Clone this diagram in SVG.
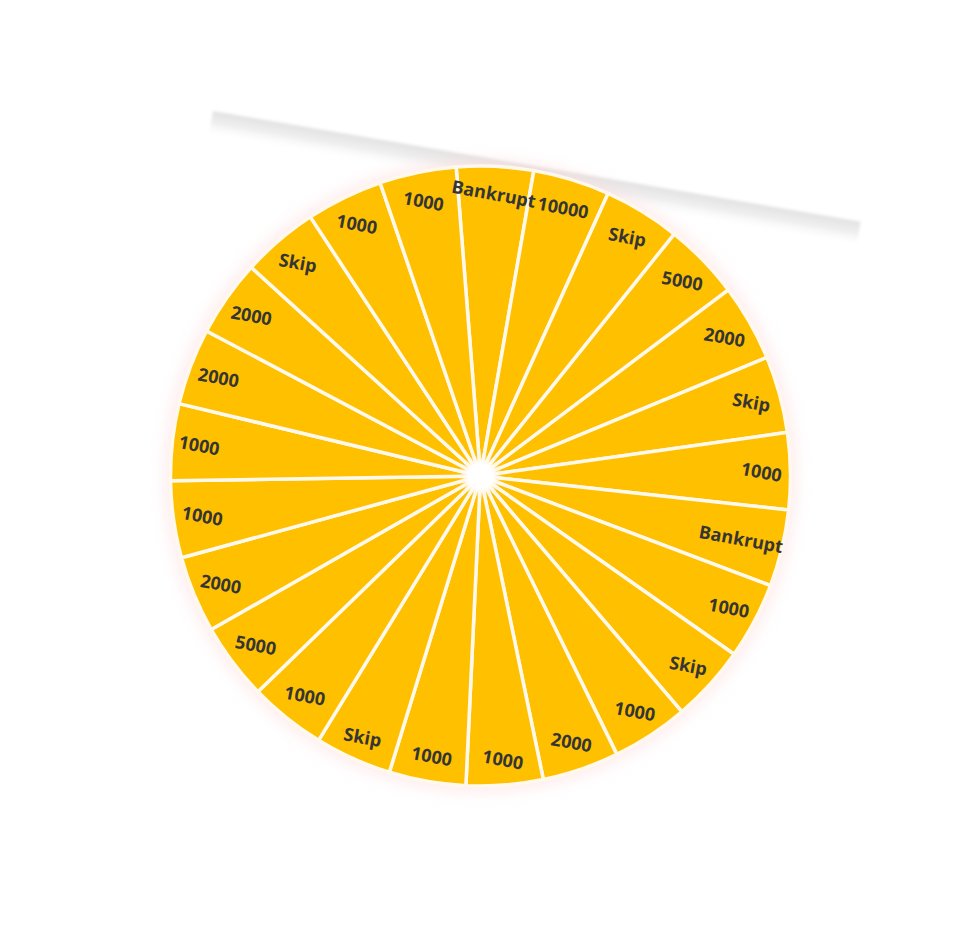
<svg xmlns="http://www.w3.org/2000/svg" xmlns:xlink="http://www.w3.org/1999/xlink" width="966" height="950" viewBox="0 0 966 950">
<defs>
<style>
.seg{fill:#FFC000;stroke:#FFF8EC;stroke-width:3.5;stroke-linejoin:round}
.lbl{font-family:"Open Sans","DejaVu Sans",sans-serif;font-weight:700;font-size:18px;fill:#353535;text-anchor:middle;dominant-baseline:central}
</style>
<linearGradient id="barG" x1="0" y1="0" x2="0" y2="1">
<stop offset="0" stop-color="#e2e2e2"/>
<stop offset="0.45" stop-color="#efefef"/>
<stop offset="1" stop-color="#ffffff" stop-opacity="0"/>
</linearGradient>
<radialGradient id="hubG">
<stop offset="0" stop-color="#ffffff"/>
<stop offset="0.55" stop-color="#ffffff"/>
<stop offset="1" stop-color="#fff3dc" stop-opacity="0"/>
</radialGradient>
<filter id="glow" x="-20%" y="-20%" width="140%" height="140%">
<feGaussianBlur stdDeviation="9"/>
</filter>
<filter id="barBlur" x="-5%" y="-50%" width="110%" height="200%">
<feGaussianBlur stdDeviation="1.5"/>
</filter>
<path id="seg" d="M0,0 L-38.85,-307.55 A310,310 0 0 1 38.85,-307.55 Z"/>
</defs>
<rect width="966" height="950" fill="#ffffff"/>
<g id="bar">
<rect x="213" y="111" width="657" height="26" fill="url(#barG)" filter="url(#barBlur)" transform="rotate(9.7 213 111)"/>
</g>
<g id="glow-ring">
<circle cx="480.5" cy="476" r="314" fill="#ffd6d6" opacity="0.55" filter="url(#glow)"/>
</g>
<g id="wheel" transform="translate(480.5,476)">
<g id="segments">
<use id="s0" xlink:href="#seg" class="seg" transform="rotate(2.7)"/>
<use id="s1" xlink:href="#seg" class="seg" transform="rotate(17.1)"/>
<use id="s2" xlink:href="#seg" class="seg" transform="rotate(31.5)"/>
<use id="s3" xlink:href="#seg" class="seg" transform="rotate(45.9)"/>
<use id="s4" xlink:href="#seg" class="seg" transform="rotate(60.3)"/>
<use id="s5" xlink:href="#seg" class="seg" transform="rotate(74.7)"/>
<use id="s6" xlink:href="#seg" class="seg" transform="rotate(89.1)"/>
<use id="s7" xlink:href="#seg" class="seg" transform="rotate(103.5)"/>
<use id="s8" xlink:href="#seg" class="seg" transform="rotate(117.9)"/>
<use id="s9" xlink:href="#seg" class="seg" transform="rotate(132.3)"/>
<use id="s10" xlink:href="#seg" class="seg" transform="rotate(146.7)"/>
<use id="s11" xlink:href="#seg" class="seg" transform="rotate(161.1)"/>
<use id="s12" xlink:href="#seg" class="seg" transform="rotate(175.5)"/>
<use id="s13" xlink:href="#seg" class="seg" transform="rotate(189.9)"/>
<use id="s14" xlink:href="#seg" class="seg" transform="rotate(204.3)"/>
<use id="s15" xlink:href="#seg" class="seg" transform="rotate(218.7)"/>
<use id="s16" xlink:href="#seg" class="seg" transform="rotate(233.1)"/>
<use id="s17" xlink:href="#seg" class="seg" transform="rotate(247.5)"/>
<use id="s18" xlink:href="#seg" class="seg" transform="rotate(261.9)"/>
<use id="s19" xlink:href="#seg" class="seg" transform="rotate(276.3)"/>
<use id="s20" xlink:href="#seg" class="seg" transform="rotate(290.7)"/>
<use id="s21" xlink:href="#seg" class="seg" transform="rotate(305.1)"/>
<use id="s22" xlink:href="#seg" class="seg" transform="rotate(319.5)"/>
<use id="s23" xlink:href="#seg" class="seg" transform="rotate(333.9)"/>
<use id="s24" xlink:href="#seg" class="seg" transform="rotate(348.3)"/>
</g>
<g id="hub"><circle r="22" fill="url(#hubG)"/></g>
<g id="labels">
<g id="l0" transform="rotate(2.7)"><text class="lbl" transform="translate(0,-283) rotate(7.8)">Bankrupt</text></g>
<g id="l1" transform="rotate(17.1)"><text class="lbl" transform="translate(0,-281) rotate(-6.6)">10000</text></g>
<g id="l2" transform="rotate(31.5)"><text class="lbl" transform="translate(0,-281) rotate(-21)">Skip</text></g>
<g id="l3" transform="rotate(45.9)"><text class="lbl" transform="translate(0,-281) rotate(-35.4)">5000</text></g>
<g id="l4" transform="rotate(60.3)"><text class="lbl" transform="translate(0,-281) rotate(-49.8)">2000</text></g>
<g id="l5" transform="rotate(74.7)"><text class="lbl" transform="translate(0,-281) rotate(-64.2)">Skip</text></g>
<g id="l6" transform="rotate(89.1)"><text class="lbl" transform="translate(0,-281) rotate(-78.6)">1000</text></g>
<g id="l7" transform="rotate(103.5)"><text class="lbl" transform="translate(0,-268) rotate(-93)">Bankrupt</text></g>
<g id="l8" transform="rotate(117.9)"><text class="lbl" transform="translate(0,-281) rotate(-107.4)">1000</text></g>
<g id="l9" transform="rotate(132.3)"><text class="lbl" transform="translate(0,-281) rotate(-121.8)">Skip</text></g>
<g id="l10" transform="rotate(146.7)"><text class="lbl" transform="translate(0,-281) rotate(-136.2)">1000</text></g>
<g id="l11" transform="rotate(161.1)"><text class="lbl" transform="translate(0,-281) rotate(-150.6)">2000</text></g>
<g id="l12" transform="rotate(175.5)"><text class="lbl" transform="translate(0,-284) rotate(-165)">1000</text></g>
<g id="l13" transform="rotate(189.9)"><text class="lbl" transform="translate(0,-284) rotate(-179.4)">1000</text></g>
<g id="l14" transform="rotate(204.3)"><text class="lbl" transform="translate(0,-286) rotate(-193.8)">Skip</text></g>
<g id="l15" transform="rotate(218.7)"><text class="lbl" transform="translate(0,-281) rotate(-208.2)">1000</text></g>
<g id="l16" transform="rotate(233.1)"><text class="lbl" transform="translate(0,-281) rotate(-222.6)">5000</text></g>
<g id="l17" transform="rotate(247.5)"><text class="lbl" transform="translate(0,-281) rotate(-237)">2000</text></g>
<g id="l18" transform="rotate(261.9)"><text class="lbl" transform="translate(0,-281) rotate(-251.4)">1000</text></g>
<g id="l19" transform="rotate(276.3)"><text class="lbl" transform="translate(0,-283) rotate(-265.8)">1000</text></g>
<g id="l20" transform="rotate(290.7)"><text class="lbl" transform="translate(0,-280) rotate(-280.2)">2000</text></g>
<g id="l21" transform="rotate(305.1)"><text class="lbl" transform="translate(0,-280) rotate(-294.6)">2000</text></g>
<g id="l22" transform="rotate(319.5)"><text class="lbl" transform="translate(0,-281) rotate(-309)">Skip</text></g>
<g id="l23" transform="rotate(333.9)"><text class="lbl" transform="translate(0,-281) rotate(-323.4)">1000</text></g>
<g id="l24" transform="rotate(348.3)"><text class="lbl" transform="translate(0,-281) rotate(-337.8)">1000</text></g>
</g>
</g>
</svg>
